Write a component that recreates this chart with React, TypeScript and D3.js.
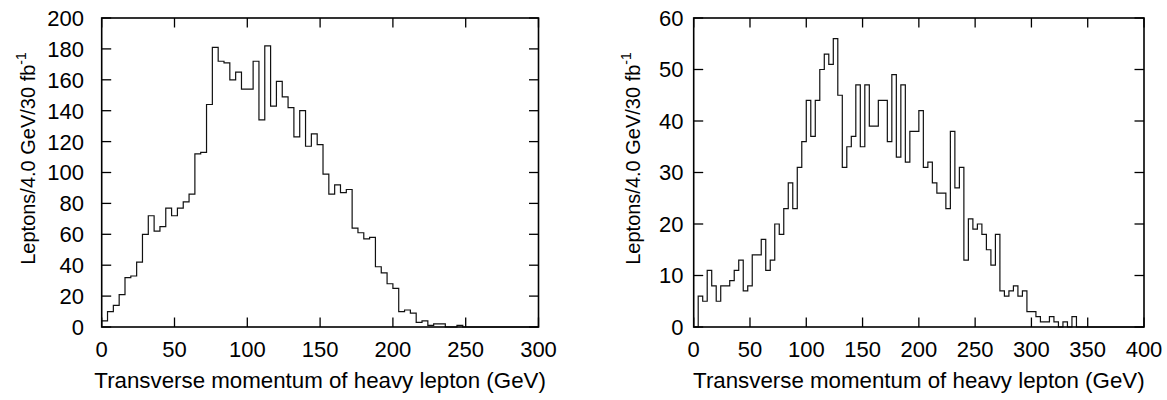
import React from "react";
import * as d3 from "d3";

// Left histogram: 4 GeV bins from 0 to 300 GeV
const leftCounts: number[] = [
  4, 10, 14, 21, 32, 33, 42, 60, 72, 62,
  65, 77, 72, 77, 81, 86, 112, 113, 144, 181,
  172, 171, 160, 165, 154, 154, 172, 134, 182, 143,
  159, 149, 142, 123, 140, 117, 125, 118, 99, 86,
  92, 87, 89, 64, 61, 57, 58, 39, 35, 28,
  25, 10, 11, 9, 3, 4, 1, 2, 2, 0,
  0, 1, 0, 0, 0, 0, 0, 0, 0, 0,
  0, 0, 0, 0, 0,
];

// Right histogram: 4 GeV bins from 0 to 400 GeV
const rightCounts: number[] = [
  0, 6, 5, 11, 8, 5, 8, 8, 9, 11,
  13, 7, 8, 14, 14, 17, 11, 13, 20, 18,
  23, 28, 23, 31, 36, 44, 37, 44, 50, 53,
  51, 56, 45, 31, 35, 37, 47, 35, 47, 39,
  39, 44, 44, 36, 49, 33, 47, 32, 38, 38,
  42, 31, 32, 28, 26, 26, 23, 38, 27, 31,
  13, 21, 19, 20, 18, 15, 12, 18, 7, 6,
  7, 8, 6, 7, 3, 3, 2, 1, 1, 2,
  1, 0, 1, 0, 2, 0, 0, 0, 0, 0,
  0, 0, 0, 0, 0, 0, 0, 0, 0, 0,
];

const binWidth = 4;
const leftXTicks = [0, 50, 100, 150, 200, 250, 300];
const leftYTicks = [0, 20, 40, 60, 80, 100, 120, 140, 160, 180, 200];
const rightXTicks = [0, 50, 100, 150, 200, 250, 300, 350, 400];
const rightYTicks = [0, 10, 20, 30, 40, 50, 60];

const xTitle = "Transverse momentum of heavy lepton (GeV)";
const yTitleMain = "Leptons/4.0 GeV/30 fb";
const yTitleSup = "-1";

const FONT = "'Liberation Sans', Arial, Helvetica, sans-serif";

type PanelProps = {
  counts: number[];
  xMax: number;
  yMax: number;
  xTicks: number[];
  yTicks: number[];
  left: number;
  right: number;
  top: number;
  bottom: number;
  yLabelEnd: number;
  yTitleX: number;
};

function Panel(p: PanelProps) {
  const x = d3.scaleLinear().domain([0, p.xMax]).range([p.left, p.right]);
  const y = d3.scaleLinear().domain([0, p.yMax]).range([p.bottom, p.top]);
  const pts: [number, number][] = p.counts.map((v, i) => [i * binWidth, v]);
  pts.push([p.counts.length * binWidth, p.counts[p.counts.length - 1]]);
  const line = d3
    .line<[number, number]>()
    .x((d) => x(d[0]))
    .y((d) => y(d[1]))
    .curve(d3.curveStepAfter);
  const tl = 9.5;
  const midX = (p.left + p.right) / 2;
  const yTitleY = 158.5;
  return (
    <g>
      <path d={line(pts) || ""} fill="none" stroke="#111" strokeWidth={1.2} />
      {p.xTicks.map((t) => (
        <g key={"xt" + t}>
          <line x1={x(t)} x2={x(t)} y1={p.bottom} y2={p.bottom - tl} stroke="#000" strokeWidth={1.3} />
          <line x1={x(t)} x2={x(t)} y1={p.top} y2={p.top + tl} stroke="#000" strokeWidth={1.3} />
          <text x={x(t)} y={357} textAnchor="middle" fontSize={22} fontFamily={FONT} fill="#000">
            {t}
          </text>
        </g>
      ))}
      {p.yTicks.map((t) => (
        <g key={"yt" + t}>
          <line x1={p.left} x2={p.left + tl} y1={y(t)} y2={y(t)} stroke="#000" strokeWidth={1.3} />
          <line x1={p.right} x2={p.right - tl} y1={y(t)} y2={y(t)} stroke="#000" strokeWidth={1.3} />
          <text x={p.yLabelEnd} y={y(t)} dy="0.36em" textAnchor="end" fontSize={22} fontFamily={FONT} fill="#000">
            {t}
          </text>
        </g>
      ))}
      <rect
        x={p.left}
        y={p.top}
        width={p.right - p.left}
        height={p.bottom - p.top}
        fill="none"
        stroke="#000"
        strokeWidth={1.6}
      />
      <text x={midX} y={388} textAnchor="middle" fontSize={22.3} fontFamily={FONT} fill="#000">
        {xTitle}
      </text>
      <text
        transform={`translate(${p.yTitleX},${yTitleY}) rotate(-90)`}
        textAnchor="middle"
        fontSize={20}
        fontFamily={FONT}
        fill="#000"
      >
        {yTitleMain}
        <tspan fontSize={14} dy={-9}>
          {yTitleSup}
        </tspan>
      </text>
    </g>
  );
}

export default function App() {
  return (
    <svg
      width={1167}
      height={400}
      style={{ position: "absolute", left: 0, top: 0, background: "#fff" }}
    >
      <rect x={0} y={0} width={1167} height={400} fill="#fff" />
      <Panel
        counts={leftCounts}
        xMax={300}
        yMax={200}
        xTicks={leftXTicks}
        yTicks={leftYTicks}
        left={101.7}
        right={538.5}
        top={18}
        bottom={327}
        yLabelEnd={84}
        yTitleX={34.5}
      />
      <Panel
        counts={rightCounts}
        xMax={400}
        yMax={60}
        xTicks={rightXTicks}
        yTicks={rightYTicks}
        left={693.7}
        right={1144}
        top={18}
        bottom={327}
        yLabelEnd={683.5}
        yTitleX={639.5}
      />
    </svg>
  );
}
